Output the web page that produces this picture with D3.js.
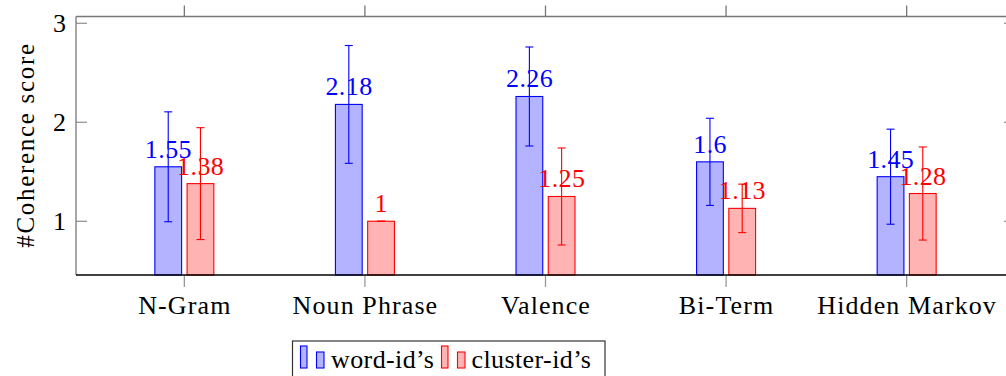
<!DOCTYPE html>
<html>
<head>
<meta charset="utf-8">
<script src="https://cdn.jsdelivr.net/npm/d3@7"></script>
<style>
  body { margin: 0; background: #fff; }
</style>
</head>
<body>
<div id="chart"></div>
<script>
// data
var categories = ["N-Gram", "Noun Phrase", "Valence", "Bi-Term", "Hidden Markov"];
var seriesNames = ["word-id\u2019s", "cluster-id\u2019s"];
var wordValues = [1.55, 2.18, 2.26, 1.6, 1.45];
var wordErrors = [0.555, 0.595, 0.5, 0.44, 0.48];
var clusterValues = [1.38, 1, 1.25, 1.13, 1.28];
var clusterErrors = [0.565, 0, 0.49, 0.245, 0.47];
var yTicks = [1, 2, 3];

var W = 1006, H = 376;
var mLeft = 76, mRight = 1015, mTop = 16.5, mBottom = 275;

var strokes = ["#0000ff", "#ff0000"];
var fills = ["#b3b3ff", "#ffb3b3"];

var svg = d3.select("#chart").append("svg")
    .attr("width", W)
    .attr("height", H);

var x = d3.scalePoint().domain(categories).range([mLeft, mRight]).padding(0.6);
var y = d3.scaleLinear().domain([0.457, 3.068]).range([mBottom, mTop]);
var xInner = d3.scaleBand().domain([0, 1]).range([-29.5, 29.5]).paddingInner(0.17);

var series = [
    {name: seriesNames[0], values: wordValues, errors: wordErrors},
    {name: seriesNames[1], values: clusterValues, errors: clusterErrors}
];

function addText(parent, size, spacing){
    var t = parent.append("text")
        .attr("font-family", "Liberation Serif")
        .attr("font-size", size);
    if(spacing) t.attr("letter-spacing", spacing);
    return t;
}

// frame
svg.append("line").attr("x1", mLeft).attr("x2", mRight).attr("y1", mTop).attr("y2", mTop)
    .attr("stroke", "#777").attr("stroke-width", 1.3);
svg.append("line").attr("x1", mLeft).attr("x2", mLeft).attr("y1", mTop).attr("y2", mBottom)
    .attr("stroke", "#777").attr("stroke-width", 1.3);
svg.append("line").attr("x1", mRight).attr("x2", mRight).attr("y1", mTop).attr("y2", mBottom)
    .attr("stroke", "#777").attr("stroke-width", 1.3);

// y ticks (inside, both sides)
yTicks.forEach(function(t){
    svg.append("line").attr("x1", mLeft).attr("x2", mLeft + 11).attr("y1", y(t)).attr("y2", y(t))
        .attr("stroke", "#777").attr("stroke-width", 1);
    svg.append("line").attr("x1", mRight - 11).attr("x2", mRight).attr("y1", y(t)).attr("y2", y(t))
        .attr("stroke", "#777").attr("stroke-width", 1);
    addText(svg, 26, 0).attr("x", 66).attr("y", y(t) + 8.4)
        .attr("text-anchor", "end").attr("fill", "#000")
        .text(t);
});

// x ticks (outside top and bottom)
categories.forEach(function(c){
    svg.append("line").attr("x1", x(c)).attr("x2", x(c)).attr("y1", mTop - 11).attr("y2", mTop)
        .attr("stroke", "#777").attr("stroke-width", 1.3);
    svg.append("line").attr("x1", x(c)).attr("x2", x(c)).attr("y1", mBottom).attr("y2", mBottom + 12)
        .attr("stroke", "#999").attr("stroke-width", 1.3);
    addText(svg, 26, 1.1).attr("x", x(c) + 0.5).attr("y", 314)
        .attr("text-anchor", "middle").attr("fill", "#000")
        .text(c);
});

// bars, labels, error bars
series.forEach(function(s, si){
    var g = svg.append("g");
    g.selectAll("rect").data(s.values).enter().append("rect")
        .attr("x", function(d, i){ return x(categories[i]) + xInner(si); })
        .attr("y", function(d){ return y(d); })
        .attr("width", xInner.bandwidth())
        .attr("height", function(d){ return mBottom - y(d); })
        .attr("fill", fills[si])
        .attr("stroke", strokes[si])
        .attr("stroke-width", 1.1);

    s.values.forEach(function(v, i){
        addText(g, 26, 0.4)
            .attr("x", x(categories[i]) + xInner(si) + xInner.bandwidth() / 2 + 0.2)
            .attr("y", y(v) - 9)
            .attr("text-anchor", "middle")
            .attr("fill", strokes[si])
            .text(v);
    });

    s.values.forEach(function(v, i){
        var cx = x(categories[i]) + xInner(si) + xInner.bandwidth() / 2;
        var e = s.errors[i];
        var eg = g.append("g").attr("stroke", strokes[si]).attr("stroke-width", 1.1);
        eg.append("line").attr("x1", cx).attr("x2", cx).attr("y1", y(v + e)).attr("y2", y(v - e));
        eg.append("line").attr("x1", cx - 4).attr("x2", cx + 4).attr("y1", y(v + e)).attr("y2", y(v + e));
        eg.append("line").attr("x1", cx - 4).attr("x2", cx + 4).attr("y1", y(v - e)).attr("y2", y(v - e));
    });
});

// bottom axis line (black)
svg.append("line").attr("x1", mLeft).attr("x2", mRight).attr("y1", mBottom).attr("y2", mBottom)
    .attr("stroke", "#000").attr("stroke-width", 1.3);

// y label
addText(svg, 25, 1.7)
    .attr("transform", "translate(33.5," + 145 + ") rotate(-90)")
    .attr("text-anchor", "middle")
    .attr("fill", "#000")
    .text("#Coherence score");

// legend
var legend = svg.append("g");
legend.append("rect").attr("x", 292.5).attr("y", 341).attr("width", 312.5).attr("height", 45)
    .attr("fill", "#fff").attr("stroke", "#333").attr("stroke-width", 1.2);
var legendX = [300.5, 441.5];
var legendTextX = [331, 471.5];
series.forEach(function(s, si){
    legend.append("rect").attr("x", legendX[si]).attr("y", 346).attr("width", 6.5).attr("height", 22)
        .attr("fill", fills[si]).attr("stroke", strokes[si]).attr("stroke-width", 1.1);
    legend.append("rect").attr("x", legendX[si] + 16).attr("y", 352).attr("width", 7.5).attr("height", 16)
        .attr("fill", fills[si]).attr("stroke", strokes[si]).attr("stroke-width", 1.1);
    addText(legend, 26, 0.4).attr("x", legendTextX[si]).attr("y", 368)
        .attr("fill", "#000")
        .text(s.name);
});
</script>
</body>
</html>
